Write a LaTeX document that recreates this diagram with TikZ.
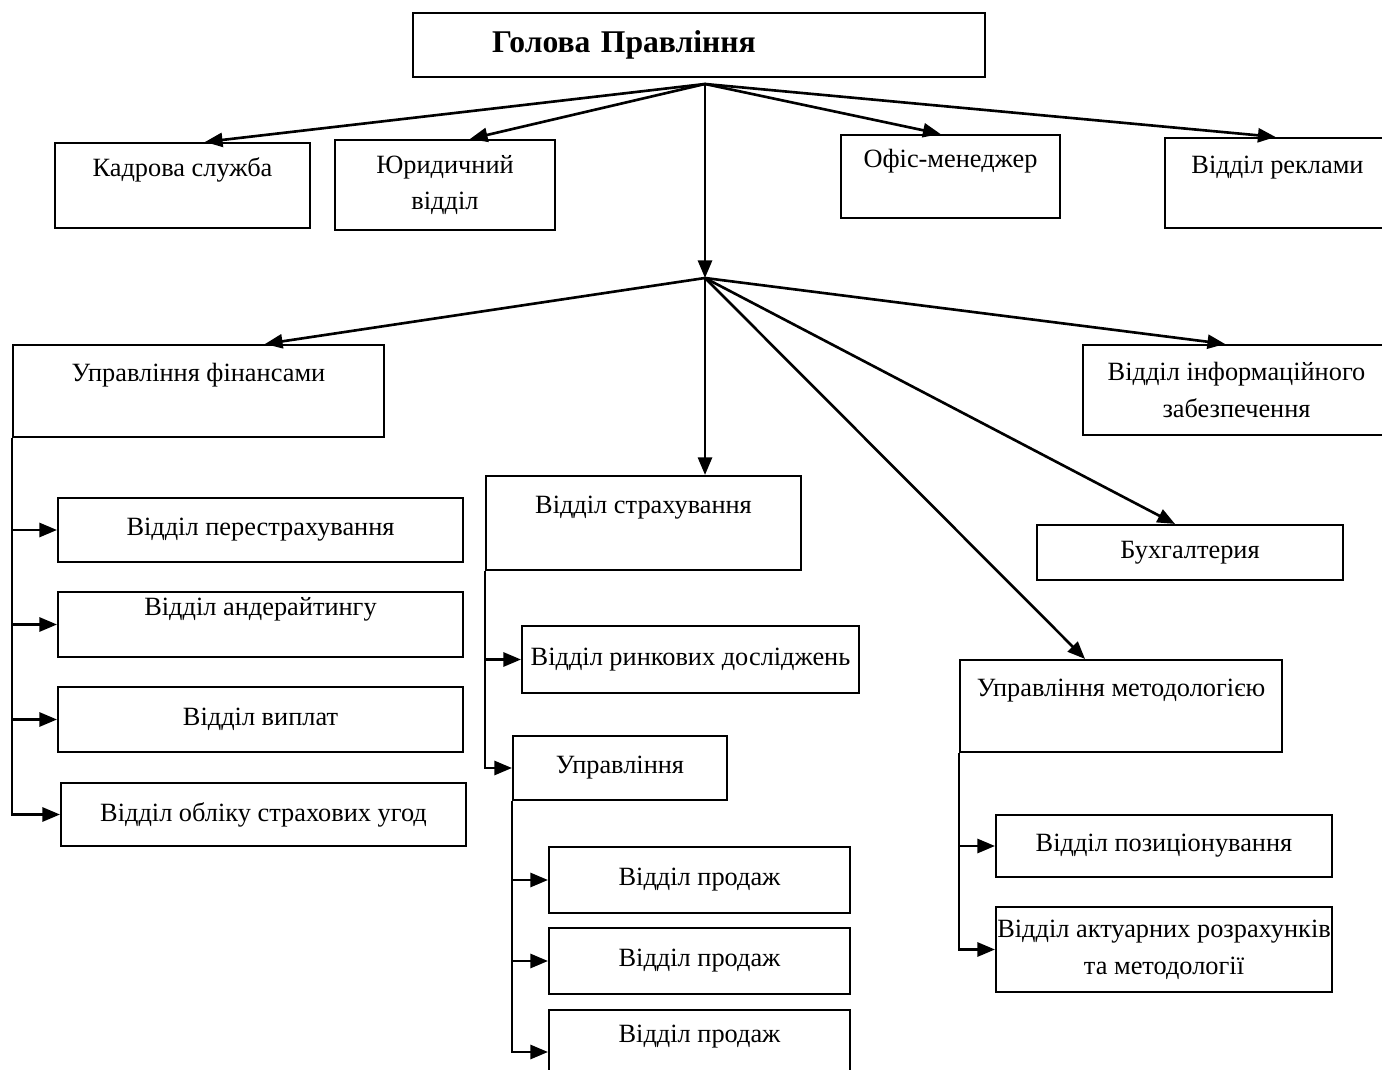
\documentclass[tikz,border=0pt]{standalone}
\usepackage{fontspec}
\setmainfont{Liberation Serif}
\usetikzlibrary{arrows.meta,calc}

\tikzset{
  box/.style={draw, line width=1.2pt, align=center, inner sep=0pt,
    font=\fontsize{15}{21}\selectfont},
  arr/.style={-{Triangle[length=10pt,width=8pt]}, line width=1.5pt},
}

\begin{document}
\begin{tikzpicture}[x=0.02cm, y=-0.02cm]
\useasboundingbox (0,0) rectangle (1382,1070);

% top level
\node[box, minimum height=1.28cm, text width=11.44cm, align=left,
  font=\fontsize{18}{22}\selectfont\bfseries] (head) at (699,45) {\hspace*{1.58cm}Голова Правління};

\coordinate (hubA) at (705,84);
\coordinate (hubB) at (705,278);

\node[box, minimum width=5.1cm, minimum height=1.7cm] (kadry) at (182.5,185.5) {Кадрова служба\\~};
\node[box, minimum width=4.4cm, minimum height=1.8cm] (yur) at (445,185) {Юридичний\\відділ};
\node[box, minimum width=4.38cm, minimum height=1.66cm] (ofis) at (950.5,176.5) {Офіс-менеджер\\~};
\node[box, minimum width=4.5cm, minimum height=1.8cm] (reklama) at (1277.5,183) {Відділ реклами\\~};

\draw[arr] (hubA) -- ($(kadry.north)+(22.5,0)$);
\draw[arr] (hubA) -- ($(yur.north)+(25,0)$);
\draw[arr] (hubA) -- ($(ofis.north)+(-10,0)$);
\draw[arr] (hubA) -- ($(reklama.north)+(-2,0)$);
\draw[arr] (hubA) -- (hubB);

% second level
\node[box, minimum width=7.42cm, minimum height=1.84cm] (fin) at (198.5,391) {Управління фінансами\\~};
\node[box, minimum width=6.3cm, minimum height=1.88cm] (strakh) at (643.5,523) {Відділ страхування\\~};
\node[box, minimum width=6.44cm, minimum height=1.84cm] (metod) at (1121,706) {Управління методологією\\~};
\node[box, minimum width=6.12cm, minimum height=1.1cm] (buh) at (1190,552.5) {Бухгалтерия};
\node[box, minimum width=6.14cm, minimum height=1.8cm] (info) at (1236.5,390) {Відділ інформаційного\\забезпечення};

\draw[arr] (hubB) -- ($(fin.north)+(66.5,0)$);
\draw[arr] (hubB) -- (hubB |- strakh.north);
\draw[arr] (hubB) -- ($(metod.north)+(-36,0)$);
\draw[arr] (hubB) -- ($(buh.north)+(-15,0)$);
\draw[arr] (hubB) -- ($(info.north)+(-11.5,0)$);

% finance
\node[box, minimum width=8.1cm, minimum height=1.28cm] (pere) at (260.5,530) {Відділ перестрахування};
\node[box, minimum width=8.1cm, minimum height=1.3cm] (ander) at (260.5,624.5) {Відділ андерайтингу\\~};
\node[box, minimum width=8.1cm, minimum height=1.3cm] (vypl) at (260.5,719.5) {Відділ виплат};
\node[box, minimum width=8.1cm, minimum height=1.26cm] (oblik) at (263.5,814.5) {Відділ обліку страхових угод};

\foreach \c in {pere,ander,vypl,oblik}
  \draw[arr] (fin.south west) |- (\c.west);

% insurance
\node[box, minimum width=6.74cm, minimum height=1.34cm] (rynok) at (690.5,659.5) {Відділ ринкових досліджень};
\node[box, minimum width=4.28cm, minimum height=1.28cm] (uprav) at (620,768) {Управління};
\node[box, minimum width=6.02cm, minimum height=1.32cm] (prod1) at (699.5,880) {Відділ продаж};
\node[box, minimum width=6.02cm, minimum height=1.32cm] (prod2) at (699.5,961) {Відділ продаж};
\node[box, minimum width=6.02cm, minimum height=1.68cm] (prod3) at (699.5,1052) {Відділ продаж\\~};

\foreach \c in {rynok,uprav}
  \draw[arr] (strakh.south west) |- (\c.west);
\foreach \c in {prod1,prod2,prod3}
  \draw[arr] (uprav.south west) |- (\c.west);

% methodology
\node[box, minimum width=6.72cm, minimum height=1.24cm] (pozits) at (1164,846) {Відділ позиціонування};
\node[box, minimum width=6.72cm, minimum height=1.7cm] (aktuar) at (1164,949.5) {Відділ актуарних розрахунків\\та методології};

\foreach \c in {pozits,aktuar}
  \draw[arr] (metod.south west) |- (\c.west);

\end{tikzpicture}
\end{document}
